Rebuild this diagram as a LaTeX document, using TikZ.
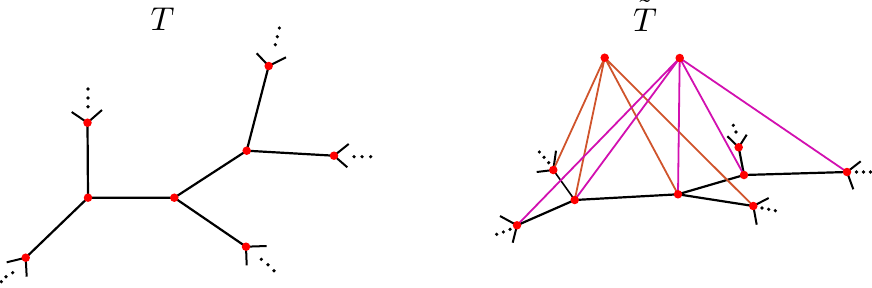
\documentclass[tikz,border=0pt]{standalone}
\usetikzlibrary{calc}
\definecolor{edgeorange}{RGB}{208,84,44}
\definecolor{edgemag}{RGB}{210,16,176}
\tikzset{
  vdot/.style={circle,fill=red,draw=none,inner sep=0pt,minimum size=8.5pt},
  edot/.style={circle,fill=black,draw=none,inner sep=0pt,minimum size=3.6pt},
  blk/.style={draw=black,line width=2.2pt},
  stub/.style={draw=black,line width=2pt},
  oedge/.style={draw=edgeorange,line width=1.8pt},
  medge/.style={draw=edgemag,line width=1.8pt},
  lbl/.style={inner sep=0pt,anchor=base,scale=3.3}
}
\begin{document}
\begin{tikzpicture}[x=1pt,y=-1pt]
\useasboundingbox (0,0) rectangle (872,287);
% labels
\node[lbl] (lT) at (162.5,30) {$T$};
\node[lbl] (lTt) at (645,31.5) {$\tilde{\rule{0pt}{7.3pt}T}$};
% ---------- left tree vertices
\coordinate (A) at (87.5,122.7);
\coordinate (B) at (88,197.7);
\coordinate (C) at (174.3,197.7);
\coordinate (D) at (246.7,150.7);
\coordinate (E) at (268.7,66);
\coordinate (F) at (334,155.7);
\coordinate (G) at (246,246.7);
\coordinate (H) at (25.7,257.7);
% stubs left
\coordinate (A1) at (71.7,112); \coordinate (A2) at (102,110);
\coordinate (E1) at (256.7,53.3); \coordinate (E2) at (286,57.3);
\coordinate (F1) at (348.7,144); \coordinate (F2) at (347.3,167.3);
\coordinate (G1) at (266.7,246); \coordinate (G2) at (246.7,265.3);
\coordinate (H1) at (6.7,262.3); \coordinate (H2) at (26.7,276.7);
\draw[blk] (A) -- (B) (B) -- (C) (B) -- (H) (C) -- (D) (C) -- (G) (D) -- (E) (D) -- (F);
\draw[stub] (A1) -- (A) -- (A2);
\draw[stub] (E1) -- (E) -- (E2);
\draw[stub] (F1) -- (F) -- (F2);
\draw[stub] (G1) -- (G) -- (G2);
\draw[stub] (H1) -- (H) -- (H2);
% ellipsis dots left
\node[edot] (a1) at (88,89) {}; \node[edot] (a2) at (88,98) {}; \node[edot] (a3) at (88,106.7) {};
\node[edot] (e1) at (279.3,28) {}; \node[edot] (e2) at (277.3,36.7) {}; \node[edot] (e3) at (275.3,44.7) {};
\node[edot] (f1) at (354,156.7) {}; \node[edot] (f2) at (362,156.7) {}; \node[edot] (f3) at (370.7,156.7) {};
\node[edot] (g1) at (261.3,259.3) {}; \node[edot] (g2) at (268,264.7) {}; \node[edot] (g3) at (274,270.7) {};
\node[edot] (h1) at (12.7,272.7) {}; \node[edot] (h2) at (6,276.7) {}; \node[edot] (h3) at (1.3,281.7) {};
% vertex dots left
\foreach \v in {A,B,C,D,E,F,G,H} \node[vdot] (n\v) at (\v) {};
% ---------- right graph vertices
\coordinate (P1) at (604.7,57.7);
\coordinate (P2) at (679.7,58);
\coordinate (Q1) at (553.3,170);
\coordinate (Q2) at (574.7,200);
\coordinate (Q3) at (517,225.3);
\coordinate (Q4) at (678,194.3);
\coordinate (Q5) at (744,175);
\coordinate (Q6) at (738.7,147.3);
\coordinate (Q7) at (753.3,206);
\coordinate (Q8) at (847,172);
% stubs right
\coordinate (Q1a) at (536.7,172); \coordinate (Q1b) at (556,150.7);
\coordinate (Q3a) at (500,216); \coordinate (Q3b) at (512.7,242.7);
\coordinate (Q6a) at (727.3,136.2); \coordinate (Q6b) at (746.7,134.7);
\coordinate (Q7a) at (768.7,198); \coordinate (Q7b) at (756.7,224.7);
\coordinate (Q8a) at (860.7,161.3); \coordinate (Q8b) at (853.3,189.3);
\draw[stub,line width=1.6pt] (Q1) -- (Q2);
\draw[blk] (Q2) -- (Q3) (Q2) -- (Q4) (Q4) -- (Q5) (Q4) -- (Q7) (Q5) -- (Q6) (Q5) -- (Q8);
\draw[stub] (Q1a) -- (Q1) -- (Q1b);
\draw[stub] (Q3a) -- (Q3) -- (Q3b);
\draw[stub] (Q6a) -- (Q6) -- (Q6b);
\draw[stub] (Q7a) -- (Q7) -- (Q7b);
\draw[stub] (Q8a) -- (Q8) -- (Q8b);
% ellipsis dots right
\node[edot] (q11) at (539.3,152) {}; \node[edot] (q12) at (544,157.3) {}; \node[edot] (q13) at (548.7,162.7) {};
\node[edot] (q31) at (496.7,234.3) {}; \node[edot] (q32) at (503.3,232) {}; \node[edot] (q33) at (510,229.3) {};
\node[edot] (q61) at (733.3,125.3) {}; \node[edot] (q62) at (736,132) {};
\node[edot] (q71) at (762,208) {}; \node[edot] (q72) at (768.7,209.3) {}; \node[edot] (q73) at (775.3,210.7) {};
\node[edot] (q81) at (856.5,172) {}; \node[edot] (q82) at (863.5,172) {}; \node[edot] (q83) at (870.5,172) {};
% coloured edges
\draw[oedge] (P1) -- (Q1) (P1) -- (Q2) (P1) -- (Q4) (P1) -- (Q7);
\draw[medge] (P2) -- (Q3) (P2) -- (Q2) (P2) -- (Q4) (P2) -- (Q5) (P2) -- (Q8);
% vertex dots right
\foreach \v in {P1,P2,Q1,Q2,Q3,Q4,Q5,Q6,Q7,Q8} \node[vdot] (n\v) at (\v) {};
\end{tikzpicture}
\end{document}
